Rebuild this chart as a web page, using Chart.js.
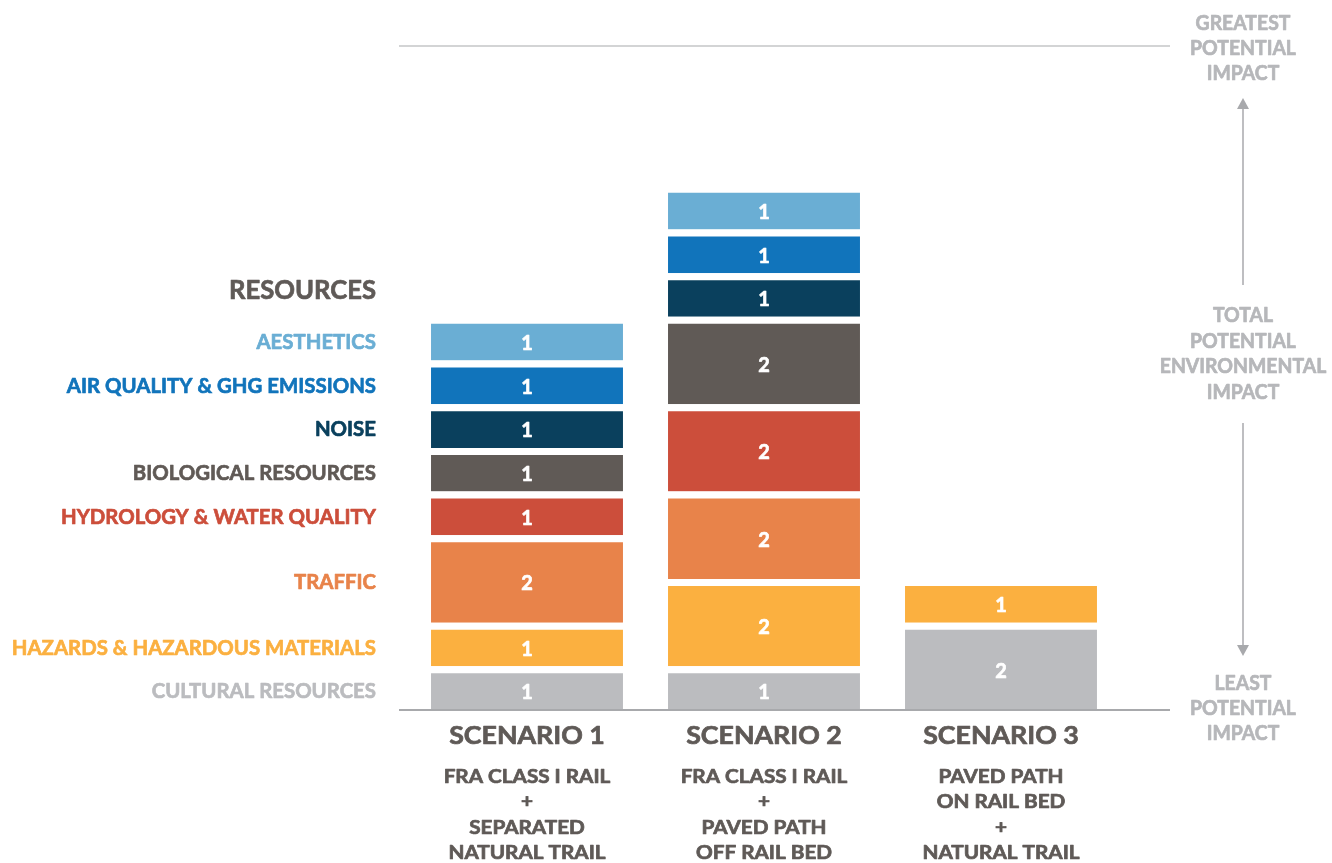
<!DOCTYPE html>
<html>
<head>
<meta charset="utf-8">
<script src="https://cdn.jsdelivr.net/npm/chart.js@4"></script>
<style>
  html, body { margin: 0; padding: 0; background: #ffffff; }
  #wrap { width: 1332px; height: 863px; position: relative; }
</style>
</head>
<body>
<div id="wrap"><canvas id="impactChart"></canvas></div>
<script>
// scenarios along the bottom
const scenarios = ["SCENARIO 1", "SCENARIO 2", "SCENARIO 3"];
const scenarioNotes = [
	["FRA CLASS I RAIL", "+", "SEPARATED", "NATURAL TRAIL"],
	["FRA CLASS I RAIL", "+", "PAVED PATH", "OFF RAIL BED"],
	["PAVED PATH", "ON RAIL BED", "+", "NATURAL TRAIL"],
];

// resource categories, bottom of the stack first
const resources = [
	"CULTURAL RESOURCES",
	"HAZARDS & HAZARDOUS MATERIALS",
	"TRAFFIC",
	"HYDROLOGY & WATER QUALITY",
	"BIOLOGICAL RESOURCES",
	"NOISE",
	"AIR QUALITY & GHG EMISSIONS",
	"AESTHETICS",
];
const resourceColors = ["#bbbcbf", "#fbb040", "#e8834a", "#cc4e3b", "#605a56", "#0a405d", "#1174bb", "#6aaed4"];

// impact scores per scenario
const cultural = [1, 1, 2];
const hazards = [1, 2, 1];
const traffic = [2, 2, 0];
const hydrology = [1, 2, 0];
const biological = [1, 2, 0];
const noise = [1, 1, 0];
const airQuality = [1, 1, 0];
const aesthetics = [1, 1, 0];
const scores = [cultural, hazards, traffic, hydrology, biological, noise, airQuality, aesthetics];

const impactTop = ["GREATEST", "POTENTIAL", "IMPACT"];
const impactMid = ["TOTAL", "POTENTIAL", "ENVIRONMENTAL", "IMPACT"];
const impactBottom = ["LEAST", "POTENTIAL", "IMPACT"];

const FONT = "Lato, 'Open Sans', sans-serif";
const DARK = "#5f5a57";
const PALE = "#b6b7ba";
const LINE = "#a8a9ac";
const GAP = 7;

// draws bold text, sx stretches it horizontally
function txt(ctx, s, x, y, size, color, align, sx) {
	ctx.save();
	ctx.font = "bold " + size + "px " + FONT;
	ctx.fillStyle = color;
	ctx.strokeStyle = color;
	ctx.lineWidth = 0.7;
	ctx.lineJoin = "round";
	ctx.textAlign = align;
	ctx.textBaseline = "middle";
	ctx.translate(x, y);
	ctx.scale(sx, 1);
	ctx.fillText(s, 0, 0);
	ctx.strokeText(s, 0, 0);
	ctx.restore();
}

function arrow(ctx, x, y1, y2) {
	// shaft from y1 to tip at y2
	const dir = y2 > y1 ? 1 : -1;
	ctx.save();
	ctx.strokeStyle = LINE;
	ctx.fillStyle = LINE;
	ctx.lineWidth = 1.5;
	ctx.beginPath();
	ctx.moveTo(x, y1);
	ctx.lineTo(x, y2 - dir * 10);
	ctx.stroke();
	ctx.beginPath();
	ctx.moveTo(x, y2);
	ctx.lineTo(x - 6, y2 - dir * 11);
	ctx.lineTo(x + 6, y2 - dir * 11);
	ctx.closePath();
	ctx.fill();
	ctx.restore();
}

const decorations = {
	id: "decorations",
	afterDatasetsDraw(chart) {
		const ctx = chart.ctx;
		const area = chart.chartArea;
		const lineL = area.left - 9.5;
		const lineR = area.right + 50.5;

		// top and base rules
		ctx.save();
		ctx.strokeStyle = LINE;
		ctx.lineWidth = 1.2;
		ctx.beginPath();
		ctx.moveTo(lineL, area.top);
		ctx.lineTo(lineR, area.top);
		ctx.stroke();
		ctx.lineWidth = 2;
		ctx.beginPath();
		ctx.moveTo(lineL, area.bottom);
		ctx.lineTo(lineR, area.bottom);
		ctx.stroke();
		ctx.restore();

		// numbers inside the segments
		chart.data.datasets.forEach((ds, i) => {
			const meta = chart.getDatasetMeta(i);
			meta.data.forEach((bar, j) => {
				const v = ds.data[j];
				if (!v) return;
				const cy = (bar.y + GAP + bar.base) / 2;
				txt(ctx, String(v), bar.x, cy + 1, 21, "#ffffff", "center", 0.95);
			});
		});

		// resource names beside the first bar
		const labelX = area.left - 32.5;
		let topY = 0;
		chart.data.datasets.forEach((ds, i) => {
			const bar = chart.getDatasetMeta(i).data[0];
			const cy = (bar.y + GAP + bar.base) / 2;
			txt(ctx, ds.label, labelX, cy, 21, ds.backgroundColor, "right", 0.97);
			topY = cy;
		});
		txt(ctx, "RESOURCES", labelX, topY - 52, 27, DARK, "right", 0.95);

		// scenario names and descriptions
		const xs = chart.getDatasetMeta(0).data.map((b) => b.x);
		xs.forEach((x, j) => {
			txt(ctx, scenarios[j], x, area.bottom + 26, 25, DARK, "center", 1.07);
			scenarioNotes[j].forEach((line, k) => {
				txt(ctx, line, x, area.bottom + 67 + k * 25.5, 18, DARK, "center", 1.15);
			});
		});

		// impact scale on the right
		const ax = area.right + 123.5;
		impactTop.forEach((s, k) => txt(ctx, s, ax, area.top - 22 + k * 25, 20, PALE, "center", 0.97));
		impactMid.forEach((s, k) => txt(ctx, s, ax, area.top + 270 + k * 25.5, 20, PALE, "center", 0.97));
		impactBottom.forEach((s, k) => txt(ctx, s, ax, area.bottom - 26 + k * 25, 20, PALE, "center", 0.97));
		arrow(ctx, ax, area.top + 239, area.top + 52);
		arrow(ctx, ax, area.top + 377, area.bottom - 54);
	},
};

const ctx = document.getElementById("impactChart").getContext("2d");
const impactChart = new Chart(ctx, {
	type: "bar",
	data: {
		labels: scenarios,
		datasets: resources.map((name, i) => ({
			label: name,
			data: scores[i],
			backgroundColor: resourceColors[i],
			borderColor: "#ffffff",
			borderWidth: { top: GAP, right: 0, bottom: 0, left: 0 },
			borderSkipped: "start",
			barPercentage: 1,
			categoryPercentage: 0.81,
		})),
	},
	options: {
		responsive: true,
		maintainAspectRatio: false,
		animation: false,
		layout: { padding: { left: 408.5, right: 212.5, top: 46, bottom: 153 } },
		plugins: {
			legend: { display: false },
			tooltip: { enabled: false },
		},
		scales: {
			x: { stacked: true, display: false },
			y: { stacked: true, display: false, min: 0, max: 15.2 },
		},
	},
	plugins: [decorations],
});
</script>
</body>
</html>
